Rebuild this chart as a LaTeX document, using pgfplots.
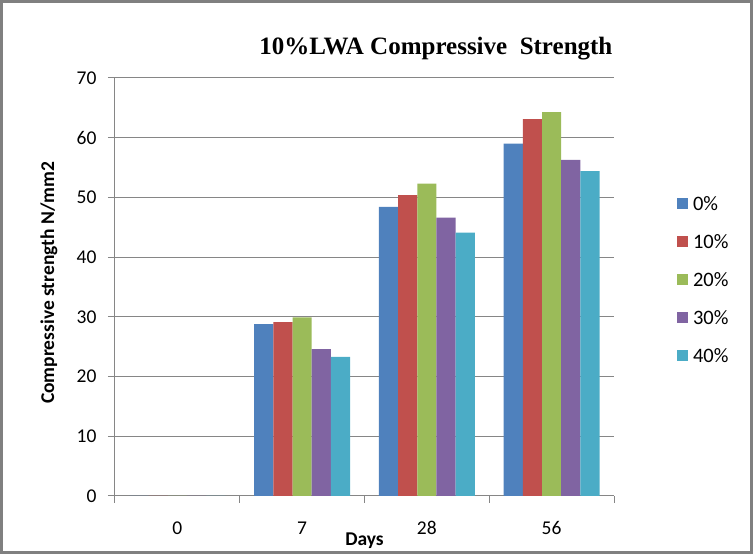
\documentclass[border=0pt]{standalone}
\usepackage{fontspec}
\setmainfont{Carlito}
\newfontfamily\titlefont{Liberation Serif}
\usepackage{pgfplots}
\pgfplotsset{compat=1.18}
\definecolor{c0}{HTML}{4F81BD}
\definecolor{c10}{HTML}{C0504D}
\definecolor{c20}{HTML}{9BBB59}
\definecolor{c30}{HTML}{8064A2}
\definecolor{c40}{HTML}{4BACC6}
\definecolor{axgray}{HTML}{868686}
\definecolor{framegray}{HTML}{808080}

\begin{document}
\begin{tikzpicture}
\begin{axis}[
  width=499pt, height=418pt, scale only axis,
  ybar=0pt, bar width=19.2pt,
  xmin=-0.5, xmax=3.5, ymin=0, ymax=70,
  ytick={0,10,...,70},
  xtick={-0.5,0.5,1.5,2.5,3.5}, xticklabels={},
  extra x ticks={0,1,2,3}, extra x tick labels={0,7,28,56},
  extra x tick style={major tick length=0pt},
  axis x line*=bottom, axis y line*=left,
  axis line style={draw=axgray, line width=1pt, -},
  tick style={draw=axgray, line width=1pt},
  tick align=outside, major tick length=7pt,
  ymajorgrids, grid style={draw=axgray, line width=1pt},
  /pgf/number format/assume math mode=true,
  tick label style={font=\fontsize{19.5}{23}\selectfont},
  xticklabel style={yshift=-22pt},
  yticklabel style={xshift=-8pt},
  ylabel={Compressive strength N/mm2},
  ylabel style={at={(rel axis cs:-0.1323,0.51)}, anchor=center,
    font=\bfseries\fontsize{19.5}{23}\selectfont},
  xlabel={Days},
  xlabel style={at={(rel axis cs:0.5,0)}, yshift=-45pt, anchor=center,
    font=\bfseries\fontsize{19.5}{23}\selectfont},
  title={10\%LWA Compressive\ \ Strength},
  title style={at={(rel axis cs:0.643,1.057)}, anchor=center,
    font=\titlefont\bfseries\fontsize{25}{29}\selectfont},
  legend image code/.code={\fill[#1] (0pt,-5pt) rectangle (11pt,6pt);},
  legend cell align=left,
  legend style={draw=none, fill=none, at={(rel axis cs:1.12,0.726)}, anchor=north west,
    row sep=18.5pt, font=\fontsize{20.5}{24}\selectfont,
    /tikz/every odd column/.append style={column sep=3pt}},
]
\addplot[fill=c0, draw=none] coordinates {(0,0) (1,28.8) (2,48.4) (3,59.0)};
\addplot[fill=c10, draw=none] coordinates {(0,0) (1,29.1) (2,50.4) (3,63.1)};
\addplot[fill=c20, draw=none] coordinates {(0,0) (1,29.9) (2,52.3) (3,64.3)};
\addplot[fill=c30, draw=none] coordinates {(0,0) (1,24.6) (2,46.6) (3,56.3)};
\addplot[fill=c40, draw=none] coordinates {(0,0) (1,23.3) (2,44.1) (3,54.4)};
\legend{0\%,10\%,20\%,30\%,40\%}
\coordinate (O) at (rel axis cs:0,0);
\end{axis}
\pgfresetboundingbox
\useasboundingbox ([shift={(-115pt,-58pt)}]O) rectangle ([shift={(638pt,496pt)}]O);
\draw[framegray, line width=3pt] ([shift={(-113.5pt,-56.5pt)}]O) rectangle ([shift={(636.5pt,494.5pt)}]O);
\end{tikzpicture}
\end{document}
